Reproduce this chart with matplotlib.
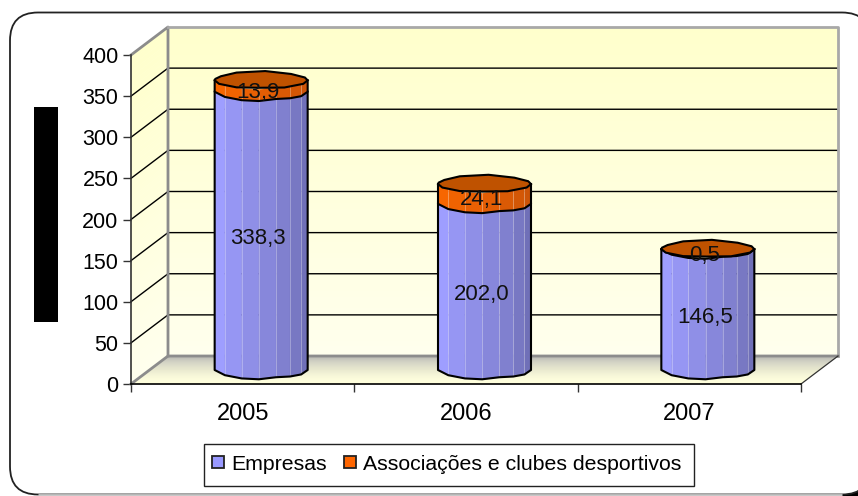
import matplotlib
matplotlib.use('Agg')
import matplotlib.pyplot as plt
import numpy as np
from matplotlib.patches import FancyBboxPatch, Polygon, Rectangle

plt.rcParams['font.family'] = ['Liberation Sans', 'DejaVu Sans']

# data
years = ['2005', '2006', '2007']
empresas = [338.3, 202.0, 146.5]
associacoes = [13.9, 24.1, 0.5]
empresas_lbl = ['338,3', '202,0', '146,5']
associacoes_lbl = ['13,9', '24,1', '0,5']
yticks = [0, 50, 100, 150, 200, 250, 300, 350, 400]
legend_names = ['Empresas', 'Associações e clubes desportivos']

W, H = 858, 496
fig = plt.figure(figsize=(W / 100, H / 100), dpi=100, facecolor='white')

# background layer in pixels: rounded frame, black block, legend box
bg = fig.add_axes([0, 0, 1, 1])
bg.set_xlim(0, W)
bg.set_ylim(H, 0)
bg.axis('off')
bg.add_patch(Rectangle((838, 478), 20, 18, fc='black', ec='none'))
bg.add_patch(FancyBboxPatch((10, 12.5), 860, 482, boxstyle='round,pad=0,rounding_size=28',
                            fc='white', ec='#222222', lw=1.3))
bg.plot([38, 842], [494.8, 494.8], color='#c8c8c8', lw=2, solid_capstyle='butt')
bg.add_patch(Rectangle((34, 107), 24, 215, fc='black', ec='none'))
bg.add_patch(Rectangle((204, 444), 490, 42, fc='white', ec='#222222', lw=1))

# main axes = front plane of the 3d box
ax = fig.add_axes([131 / W, (H - 384) / H, 670 / W, 329 / H])
ax.patch.set_alpha(0)
ax.set_xlim(0, 3)
ax.set_ylim(0, 400)
ux = 3 / 670    # data per pixel
uy = 400 / 329
dx = 37 * ux    # box depth
dy = 28 * uy


def band(pts, col, z=1):
    ax.add_patch(Polygon(pts, closed=True, fc=col, ec=col, lw=0.3, zorder=z, clip_on=False))


def mix(c1, c2, t):
    return tuple((1 - t) * np.array(c1) + t * np.array(c2))


# walls with a soft gradient
wall_top = (1, 1, 0.80)
wall_bot = (1, 1, 0.93)
n = 60
for i in range(n):
    v0, v1 = 400 * i / n, 400 * (i + 1) / n
    c = mix(wall_bot, wall_top, i / (n - 1))
    band([(dx, v0 + dy), (3 + dx, v0 + dy), (3 + dx, v1 + dy), (dx, v1 + dy)], c)
    band([(0, v0), (dx, v0 + dy), (dx, v1 + dy), (0, v1)], c)

# floor
floor_back = (0.72, 0.72, 0.70)
floor_front = (1, 1, 0.86)
for i in range(30):
    t0, t1 = i / 30, (i + 1) / 30
    c = mix(floor_front, floor_back, (i / 29) ** 1.8)
    band([(dx * t0, dy * t0), (3 + dx * t0, dy * t0), (3 + dx * t1, dy * t1), (dx * t1, dy * t1)], c)

# grid on back wall and side wall
for v in yticks[1:-1]:
    ax.plot([0, dx, 3 + dx], [v, v + dy, v + dy], color='black', lw=1, zorder=2, clip_on=False)

# wall borders
grey = '#8c8c8c'
ax.plot([0, dx, dx], [400, 400 + dy, dy], color=grey, lw=2, zorder=3, clip_on=False)
ax.plot([dx, 3 + dx, 3 + dx], [400 + dy, 400 + dy, dy], color='#a8a8a8', lw=2, zorder=3, clip_on=False)
ax.plot([0, dx, 3 + dx], [0, dy, dy], color=grey, lw=2, zorder=3, clip_on=False)
ax.plot([3, 3 + dx], [0, dy], color='#333333', lw=0.9, zorder=3, clip_on=False)

# cylinders
half_w = 46.5 * ux
ry = 8.3 * uy
facets = [-1, -0.78, -0.42, -0.05, 0.32, 0.62, 0.86, 1]
wobble = [1, 1, 1.12, 1.12, 0.92, 1.0, 1.05, 1]
blue_l, blue_r = (0.62, 0.62, 1.0), (0.44, 0.44, 0.72)
orange_l, orange_r = (0.97, 0.40, 0.0), (0.80, 0.33, 0.03)
cap_col = '#bf5200'
cap_ang = [0, 20, 50, 85, 122, 150, 170, 180, 205, 238, 268, 300, 335]
cap_rad = [1, 1.0, 1.0, 1.12, 1.1, 0.98, 1.0, 1, 1.0, 1.0, 0.9, 1.0, 1.0]


def arc(u, w=1):
    return np.sqrt(max(0, 1 - u * u)) * w


def body(cx, base, lo, hi, cl, cr, z):
    # vertical facets of one cylinder segment
    for i in range(len(facets) - 1):
        u0, u1 = facets[i], facets[i + 1]
        t = i / (len(facets) - 2)
        col = mix(cl, cr, t)
        x0, x1 = cx + u0 * half_w, cx + u1 * half_w
        y0, y1 = ry * arc(u0, wobble[i]), ry * arc(u1, wobble[i + 1])
        band([(x0, base + lo - y0), (x1, base + lo - y1),
              (x1, base + hi - y1), (x0, base + hi - y0)], col, z)
    for i, u in enumerate(facets):
        if 0 < i < len(facets) - 1:
            xu = cx + u * half_w
            yu = ry * arc(u, wobble[i])
            ax.plot([xu, xu], [base + lo - yu, base + hi - yu],
                    color='white', lw=0.6, alpha=0.35, zorder=z + 0.1, clip_on=False)
    xs = [cx + u * half_w for u in facets]
    ys = [base + lo - ry * arc(u, w) for u, w in zip(facets, wobble)]
    ax.plot([xs[0]] + xs + [xs[-1]], [base + hi] + ys + [base + hi], color='black', lw=1.5,
            zorder=z + 0.2, clip_on=False, solid_joinstyle='round')


for i in range(len(years)):
    cx = i + 0.5 + dx / 2
    base = dy * 0.5
    e, a = empresas[i], associacoes[i]
    body(cx, base, 0, e, blue_l, blue_r, 5)
    body(cx, base, e, e + a, orange_l, orange_r, 6)
    rad = np.radians(cap_ang)
    cap = [(cx + half_w * r * np.cos(t) if abs(np.cos(t)) > 0.9 else cx + half_w * np.cos(t),
            base + e + a + ry * r * np.sin(t)) for t, r in zip(rad, cap_rad)]
    ax.add_patch(Polygon(cap, closed=True, fc=cap_col, ec='black', lw=1.5, zorder=7, clip_on=False))
    ax.text(cx - 3 * ux, base + e / 2 - 7.5 * uy, empresas_lbl[i], ha='center', va='center',
            fontsize=16, color='#111111', zorder=9)
    ax.text(cx - 3 * ux, base + e + a / 2 - 6 * uy, associacoes_lbl[i], ha='center', va='center',
            fontsize=16, color='#111111', zorder=9)

# axes
for s in ['top', 'right']:
    ax.spines[s].set_visible(False)
ax.spines['left'].set_color('#333333')
ax.spines['left'].set_linewidth(1.2)
ax.spines['bottom'].set_color('black')
ax.spines['bottom'].set_linewidth(1.2)
for s in ax.spines.values():
    s.set_zorder(4)
ax.set_yticks(yticks)
ax.set_xticks([0, 1, 2, 3])
ax.set_xticklabels([])
ax.set_xticks([0.5, 1.5, 2.5], labels=years, minor=True)
ax.tick_params(axis='x', which='major', length=6, width=1, color='#333333')
ax.tick_params(axis='x', which='minor', length=0, pad=14, labelsize=17)
ax.tick_params(axis='y', length=6, width=1, color='#333333', labelsize=15.5, pad=3)

# legend
h1 = Rectangle((0, 0), 1, 1, fc='#9999ff', ec='#222222', lw=1.3)
h2 = Rectangle((0, 0), 1, 1, fc='#ff6600', ec='#222222', lw=1.3)
leg = fig.legend([h1, h2], legend_names, ncol=2, fontsize=15.3, loc='center',
                 bbox_to_anchor=(447 / W, (H - 464) / H), frameon=False,
                 handlelength=0.55, handleheight=0.55, handletextpad=0.35,
                 columnspacing=0.8, borderpad=0, labelspacing=0)

fig.savefig('out.png', dpi=100)
